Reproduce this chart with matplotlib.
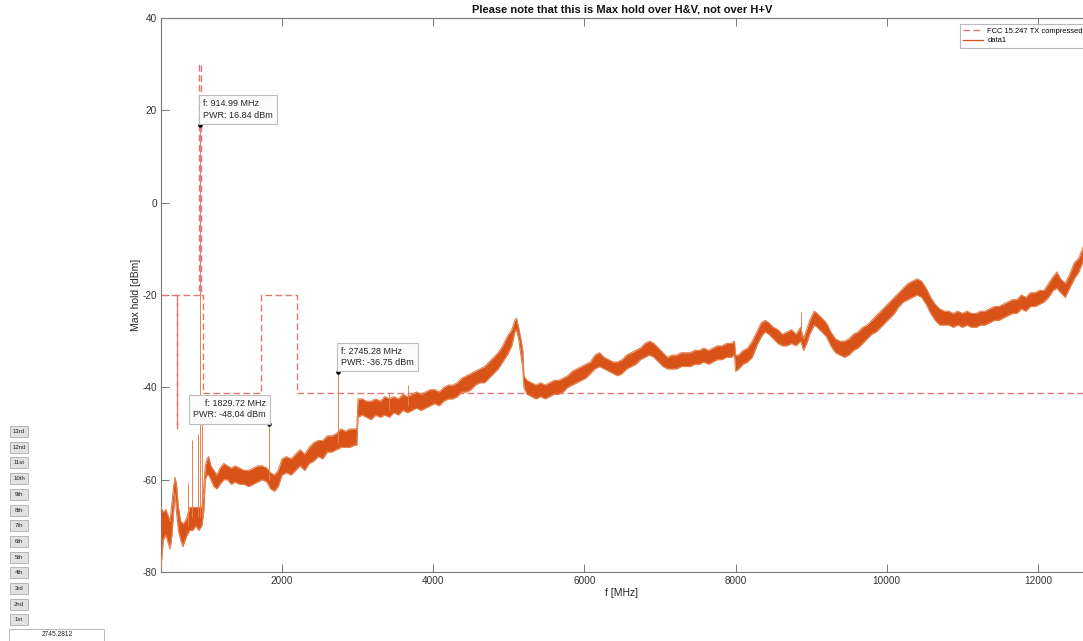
import matplotlib
matplotlib.use('Agg')
import matplotlib.pyplot as plt
from matplotlib.patches import Rectangle
from matplotlib.lines import Line2D

plt.rcParams['font.family'] = ['Liberation Sans', 'DejaVu Sans']
plt.rcParams['axes.unicode_minus'] = False

# max-hold trace (lower / upper edge, dBm)
freq_mhz = [400, 430, 465, 500, 520, 545, 570, 585, 605, 630,
            660, 690, 720, 745, 780, 820, 860, 900, 940, 965,
            985, 1010, 1030, 1060, 1100, 1140, 1180, 1230, 1280, 1330,
            1380, 1440, 1500, 1560, 1620, 1680, 1740, 1800, 1850, 1900,
            1950, 2000, 2060, 2120, 2180, 2240, 2300, 2360, 2420, 2480,
            2540, 2600, 2660, 2720, 2780, 2840, 2900, 2960, 2990,
            3005, 3060, 3120, 3180, 3240, 3300, 3360, 3420, 3480, 3540,
            3600, 3660, 3720, 3780, 3840, 3900, 3960, 4020, 4080, 4140,
            4200, 4260, 4320, 4380, 4440, 4500, 4560, 4620, 4680, 4740,
            4800, 4860, 4920, 4980, 5040, 5080, 5100, 5130, 5160, 5185,
            5200, 5240, 5300, 5360, 5420, 5480, 5540, 5600, 5660, 5720,
            5780, 5840, 5900, 5960, 6020, 6080, 6140, 6200, 6260, 6320,
            6380, 6440, 6500, 6560, 6620, 6680, 6740, 6800, 6860, 6920,
            6980, 7040, 7100, 7160, 7220, 7280, 7340, 7400, 7460, 7520,
            7580, 7640, 7700, 7760, 7820, 7880, 7940, 7985,
            8000, 8040, 8100, 8160, 8220, 8280, 8340, 8390, 8440, 8500,
            8560, 8620, 8680, 8740, 8800, 8860, 8900, 8940, 8980, 9040,
            9080, 9140, 9200, 9260, 9320, 9380, 9440, 9500, 9560, 9620,
            9680, 9740, 9800, 9860, 9920, 9980, 10040, 10100, 10160, 10220,
            10280, 10340, 10400, 10460, 10520, 10580, 10640, 10700, 10760, 10820,
            10880, 10940, 11000, 11060, 11120, 11180, 11240, 11300, 11360, 11420,
            11480, 11540, 11600, 11660, 11720, 11780, 11840, 11900, 11960, 12020,
            12080, 12140, 12200, 12250, 12300, 12360, 12420, 12480, 12540, 12600]
level_lo = [-79, -73, -72, -74, -75, -72, -66, -63, -67, -71,
            -73, -74.5, -73, -72, -71, -71, -70, -71, -70, -67,
            -60, -59, -59, -60, -61.5, -62, -61, -60, -60, -61,
            -60.5, -61, -61, -61.5, -61, -60.5, -60, -60.5, -62, -62.5,
            -61.5, -59, -58.5, -59, -58, -57, -58, -56.5, -56, -55,
            -55.5, -54, -54, -53.5, -53, -53, -53, -52.5, -52.5,
            -46.5, -46, -46.5, -47, -46, -46.5, -46, -46.5, -45.5, -46,
            -45, -45.5, -45, -44.5, -45, -44.5, -44, -43.5, -44, -43,
            -42.5, -42.5, -42, -41, -41, -40.5, -39.5, -39, -39, -38,
            -37, -36, -34.5, -33, -31, -28, -27.5, -29.5, -33, -36,
            -40, -41.5, -42, -42.5, -42, -42.5, -42, -41.5, -41.5, -41,
            -40, -39.5, -39, -38.5, -38, -37, -36, -35.5, -36, -36.5,
            -37, -37.5, -37, -36, -35.5, -35, -34, -33.5, -33, -33.5,
            -34.5, -35.5, -36, -36, -36, -35.5, -35.5, -35.5, -35, -35,
            -34.5, -35, -34.5, -34, -34, -33.5, -33.5, -33,
            -36.5, -36, -35, -34.5, -33.5, -31, -29, -28, -28.5, -29.5,
            -30.5, -31, -31, -30.5, -31, -30, -32, -30.5, -28.5, -26.5,
            -27, -28, -29, -31, -32.5, -33, -33.5, -33, -32, -31.5,
            -30.5, -29.5, -28.5, -28, -27, -26, -25, -24, -22.5, -21.5,
            -21, -20.5, -20, -20.5, -22, -24, -25.5, -26.5, -26.5, -26.5,
            -27, -26.5, -27, -26.5, -27, -27, -26.5, -26.5, -26, -25.5,
            -25.5, -25, -24.5, -24, -24, -23, -23.5, -22.5, -22.5, -22,
            -21.5, -20.5, -19, -18.5, -19.5, -20.5, -18.5, -16.5, -15, -12.5]
level_hi = [-66, -67, -66.5, -68, -69, -65, -61, -59.5, -61, -66,
            -69, -69.5, -69, -68, -66, -66, -66, -66, -66, -62,
            -57, -55.5, -55, -57, -58, -59, -57.5, -56.5, -57, -57.5,
            -57, -57.5, -58, -58, -57.5, -57, -57, -57.5, -58.5, -59,
            -58, -55.5, -55, -55.5, -54.5, -53.5, -54.5, -53, -52, -51.5,
            -51.5, -50.5, -50.5, -50, -49, -49.5, -49, -49, -49,
            -42.5, -42.5, -43, -43, -42.5, -43, -42, -42.5, -42, -42.5,
            -41.5, -42, -41.5, -41, -41.5, -41, -40.5, -40.5, -41, -40,
            -39.5, -39.5, -39, -38, -37.5, -37, -36.5, -36, -35.5, -34.5,
            -33.5, -32.5, -31, -29, -27.5, -25.5, -25, -27, -29.5, -32,
            -37.5, -38.5, -39, -39.5, -39, -39.5, -39, -38.5, -38.5, -38,
            -37.5, -36.5, -36, -35.5, -35, -34.5, -33, -32.5, -33.5, -34,
            -34.5, -34.5, -34, -33, -32.5, -32, -31.5, -30.5, -30, -30.5,
            -31.5, -32.5, -33.5, -33, -33, -32.5, -32.5, -32.5, -32, -32,
            -31.5, -32, -31.5, -31, -31, -30.5, -30.5, -30,
            -33, -33, -32, -31.5, -30, -28, -26, -25.5, -26, -27,
            -27.5, -28.5, -28, -27.5, -28.5, -27, -29.5, -27.5, -25.5, -23.5,
            -24, -25, -26, -28, -29.5, -30, -30, -29.5, -28.5, -28,
            -27, -26.5, -25.5, -24.5, -23.5, -22.5, -21.5, -20.5, -19.5, -18.5,
            -17.5, -17, -16.5, -17, -18.5, -20.5, -22, -23, -23.5, -23.5,
            -24, -23.5, -24, -23.5, -24, -24, -23.5, -23.5, -23, -22.5,
            -22.5, -22, -21.5, -21, -21, -20, -20.5, -19.5, -19.5, -19,
            -19, -17.5, -16, -15, -16.5, -17.5, -15.5, -13, -12, -9.5]

# narrow spurs sticking out of the band
spike_f = [757, 806, 889, 914.99, 940, 1829.72, 2745.28, 3415, 3667, 8862]
spike_base = [-70, -68, -68, -68, -68, -60, -52, -45, -44, -29]
spike_top = [-60.7, -51.4, -50, 16.84, -47.5, -48.04, -36.75, -41.5, -39.6, -23.7]

# FCC 15.247 limit mask
mask_f = [400, 608, 608, 614, 614, 902, 902, 928, 928, 960, 960,
          1722, 1722, 2200, 2200, 13000]
mask_db = [-20, -20, -49, -49, -20, -20, 30, 30, -20, -20, -41.2,
           -41.2, -20, -20, -41.2, -41.2]

# data tips
tip_f = [914.99, 1829.72, 2745.28]
tip_p = [16.84, -48.04, -36.75]

button_labels = ['13rd', '12nd', '11st', '10th', '9th', '8th', '7th',
                 '6th', '5th', '4th', '3rd', '2nd', '1st']
edit_value = '2745.2812'

ORANGE = '#D95319'
EDGE = '#e4824f'
MASK = '#e07a7a'
W, H = 1083, 641


def main():
    fig = plt.figure(figsize=(W / 100, H / 100), dpi=100)
    ax = fig.add_axes([161 / W, (H - 572) / H, 952.6 / W, 554 / H])

    ax.plot(mask_f, mask_db, color=MASK, lw=1.0, dashes=(4.8, 2.4), zorder=2)
    ax.fill_between(freq_mhz, level_lo, level_hi, color=ORANGE, lw=0, zorder=3)
    ax.plot(freq_mhz, level_hi, color=EDGE, lw=0.8, zorder=3)
    ax.plot(freq_mhz, level_lo, color=EDGE, lw=0.8, zorder=3)
    ax.vlines(spike_f, spike_base, spike_top, color=EDGE, lw=0.7, zorder=3)

    ax.plot(tip_f, tip_p, 'o', color='black', ms=2.2, zorder=5)
    offs = [(3, 5, 'left'), (-3, 5, 'right'), (3, 5, 'left')]
    for f, p, (dx, dy, ha) in zip(tip_f, tip_p, offs):
        ax.annotate('f: %.2f MHz\nPWR: %.2f dBm' % (f, p), xy=(f, p),
                    xytext=(dx, dy), textcoords='offset pixels',
                    ha=ha, va='bottom', multialignment=ha, fontsize=6.5,
                    color='#262626', linespacing=1.35, zorder=6,
                    bbox=dict(boxstyle='square,pad=0.45', fc='#fbfbfb',
                              ec='#bdbdbd', lw=0.8))

    ax.set_xlim(400, 13000)
    ax.set_ylim(-80, 40)
    ax.set_xticks(range(2000, 13000, 2000))
    ax.set_yticks(range(-80, 41, 20))
    ax.tick_params(direction='in', length=6, width=0.7, pad=3,
                   top=True, right=True, labelsize=7.2,
                   colors='#777777', labelcolor='#333333')
    for s in ax.spines.values():
        s.set_color('#777777')
        s.set_linewidth(0.8)

    ax.set_title('Please note that this is Max hold over H&V, not over H+V',
                 x=0.484, pad=4, fontsize=8, fontweight='bold', color='#111111')
    ax.set_xlabel('f [MHz]', fontsize=7.5, color='#262626')
    ax.xaxis.set_label_coords(0.484, -0.029)
    ax.set_ylabel('Max hold [dBm]', fontsize=7.5, color='#262626')
    ax.yaxis.set_label_coords(-0.021, 0.5)

    handles = [Line2D([], [], color=MASK, lw=1.0, dashes=(4.8, 2.4)),
               Line2D([], [], color=ORANGE, lw=0.9)]
    leg = ax.legend(handles, ['FCC 15.247 TX compressed', 'data1'],
                    loc='upper left', bbox_to_anchor=((960 - 161) / 952.6, (572 - 24) / 554),
                    fontsize=5.4, frameon=True, fancybox=False, borderpad=0.45,
                    labelspacing=0.35, handlelength=2.6, handletextpad=0.6,
                    borderaxespad=0)
    leg.get_frame().set_edgecolor('#a8a8a8')
    leg.get_frame().set_linewidth(0.8)

    # GUI controls on the left of the figure
    for i, lab in enumerate(button_labels):
        yc = 431.5 + i * 15.7
        fig.add_artist(Rectangle((10 / W, 1 - (yc + 5.5) / H), 18 / W, 11 / H,
                                 transform=fig.transFigure, fc='#e1e1e1',
                                 ec='#adadad', lw=0.6))
        fig.text(19 / W, 1 - yc / H, lab, ha='center', va='center',
                 fontsize=4.3, color='#222222')
    fig.add_artist(Rectangle((9 / W, 1 - 643 / H), 95 / W, 14 / H,
                             transform=fig.transFigure, fc='white',
                             ec='#adadad', lw=0.6))
    fig.text(57 / W, 1 - 635 / H, edit_value, ha='center', va='center',
             fontsize=4.8, color='#222222')

    fig.savefig('out.png', dpi=100)


if __name__ == "__main__":
    main()
